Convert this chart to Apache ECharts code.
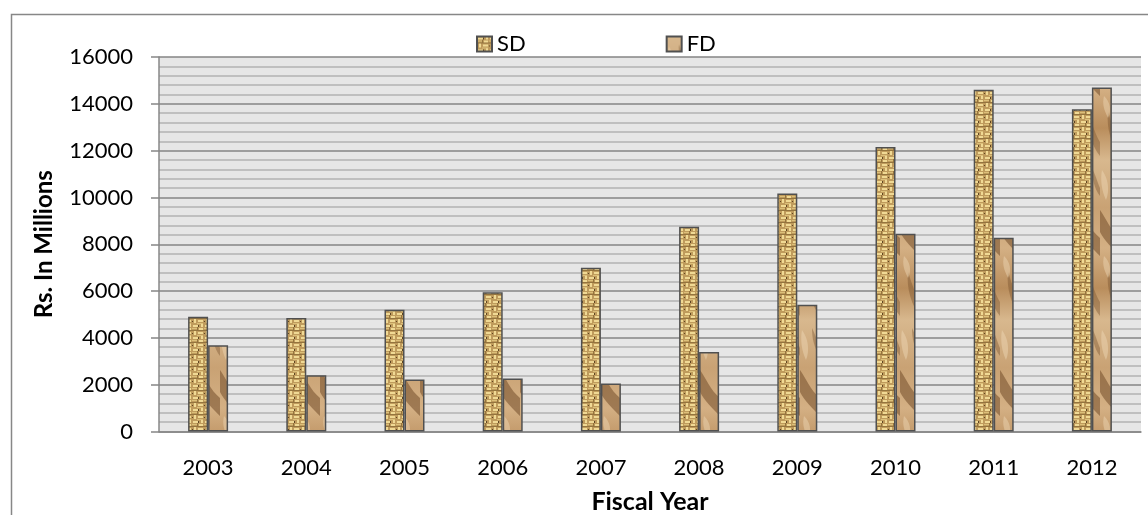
<!DOCTYPE html>
<html>
<head>
<meta charset="utf-8">
<script src="https://cdn.jsdelivr.net/npm/echarts@6/dist/echarts.min.js"></script>
<style>
  html, body { margin: 0; padding: 0; background: #ffffff; }
  #chart { width: 1148px; height: 515px; }
</style>
</head>
<body>
<div id="chart"></div>
<script>
// Deposits by fiscal year (Rs. in millions)
const years = ['2003', '2004', '2005', '2006', '2007', '2008', '2009', '2010', '2011', '2012'];
const sdValues = [4900, 4850, 5200, 5950, 7000, 8750, 10170, 12150, 14600, 13770];
const fdValues = [3690, 2400, 2220, 2260, 2050, 3400, 5410, 8450, 8280, 14700];
const yTicks = [0, 2000, 4000, 6000, 8000, 10000, 12000, 14000, 16000];

const FONT = 'Lato, "Open Sans", sans-serif';

// Woven tan texture for the SD bars
function wovenPattern() {
  const c = document.createElement('canvas');
  c.width = 12; c.height = 12;
  const g = c.getContext('2d');
  g.fillStyle = '#bf9b5c';
  g.fillRect(0, 0, 12, 12);
  g.fillStyle = '#f0d994';
  g.fillRect(1, 1, 5, 2);
  g.fillRect(7, 4, 4, 2);
  g.fillRect(2, 7, 2, 4);
  g.fillRect(6, 8, 5, 2);
  g.fillRect(9, 0, 2, 3);
  g.fillStyle = '#dcc07a';
  g.fillRect(0, 4, 5, 1);
  g.fillRect(5, 11, 6, 1);
  g.fillStyle = '#5e4522';
  g.fillRect(6, 1, 1, 2);
  g.fillRect(0, 9, 1, 1);
  g.fillRect(4, 6, 1, 1);
  g.fillRect(10, 6, 1, 1);
  g.fillStyle = '#94743e';
  g.fillRect(0, 6, 12, 1);
  g.fillRect(5, 3, 1, 3);
  return c;
}

// Crumpled paper texture for the FD bars
function paperPattern() {
  const c = document.createElement('canvas');
  c.width = 20; c.height = 160;
  const g = c.getContext('2d');
  const grad = g.createLinearGradient(0, 0, 0, 160);
  grad.addColorStop(0, '#d8b88e');
  grad.addColorStop(0.3, '#c9a274');
  grad.addColorStop(0.55, '#d4b084');
  grad.addColorStop(0.8, '#b98d5c');
  grad.addColorStop(1, '#d8b88e');
  g.fillStyle = grad;
  g.fillRect(0, 0, 20, 160);
  // dark creases
  g.fillStyle = 'rgba(105,68,34,0.5)';
  g.beginPath();
  g.moveTo(0, 50); g.bezierCurveTo(6, 58, 10, 70, 20, 78);
  g.lineTo(20, 96); g.bezierCurveTo(12, 88, 4, 80, 0, 72);
  g.closePath(); g.fill();
  g.fillStyle = 'rgba(105,68,34,0.35)';
  g.beginPath();
  g.moveTo(8, 112); g.bezierCurveTo(12, 124, 16, 136, 20, 142);
  g.lineTo(20, 156); g.bezierCurveTo(12, 146, 6, 128, 8, 112);
  g.closePath(); g.fill();
  g.beginPath();
  g.moveTo(12, 8); g.bezierCurveTo(16, 16, 18, 24, 20, 28);
  g.lineTo(20, 36); g.bezierCurveTo(14, 28, 12, 18, 12, 8);
  g.closePath(); g.fill();
  // light highlights
  g.fillStyle = 'rgba(240,218,185,0.45)';
  g.beginPath();
  g.moveTo(2, 10); g.bezierCurveTo(8, 18, 10, 30, 6, 40);
  g.bezierCurveTo(2, 32, 0, 20, 2, 10);
  g.closePath(); g.fill();
  g.beginPath();
  g.moveTo(4, 96); g.bezierCurveTo(10, 102, 12, 110, 8, 118);
  g.bezierCurveTo(4, 110, 2, 104, 4, 96);
  g.closePath(); g.fill();
  return c;
}

const chart = echarts.init(document.getElementById('chart'), null, { renderer: 'canvas' });

const barBorder = { borderColor: '#505050', borderWidth: 1.5 };

chart.setOption({
  backgroundColor: '#ffffff',
  animation: false,
  textStyle: { fontFamily: FONT, color: '#000000' },
  graphic: [{
    type: 'rect',
    left: 9, top: 12,
    shape: { width: 1160, height: 540 },
    style: { fill: 'none', stroke: '#878787', lineWidth: 1.5 },
    silent: true, z: 0
  }],
  legend: {
    left: 471, top: 28,
    icon: 'rect',
    itemWidth: 15, itemHeight: 15,
    itemGap: 140,
    textStyle: { fontFamily: FONT, fontSize: 22, color: '#000000' },
    data: ['SD', 'FD']
  },
  grid: {
    left: 159, top: 57, right: 7, bottom: 83.5,
    outerBoundsMode: 'none',
    containLabel: false,
    show: true, backgroundColor: '#e6e6e6', borderWidth: 0
  },
  xAxis: {
    type: 'category',
    data: years,
    name: 'Fiscal Year',
    nameLocation: 'middle',
    nameGap: 58,
    nameTextStyle: { fontFamily: FONT, fontSize: 25, fontWeight: 'bold', color: '#000000' },
    axisLine: { lineStyle: { color: '#878787', width: 1.5 } },
    axisTick: { show: false },
    axisLabel: { fontFamily: FONT, fontSize: 22, color: '#000000', margin: 25 }
  },
  yAxis: {
    type: 'value',
    min: yTicks[0], max: yTicks[yTicks.length - 1], interval: 2000,
    name: 'Rs. In Millions',
    nameLocation: 'middle',
    nameGap: 103,
    nameRotate: 90,
    nameTextStyle: { fontFamily: FONT, fontSize: 24, fontWeight: 'bold', color: '#000000' },
    axisLine: { show: true, lineStyle: { color: '#878787', width: 1.5 } },
    axisTick: { show: true, length: 8, lineStyle: { color: '#878787', width: 1.5 } },
    axisLabel: {
      fontFamily: FONT, fontSize: 22, color: '#000000', margin: 26,
      formatter: function (v) { return String(v); }
    },
    splitLine: { show: true, lineStyle: { color: '#858585', width: 1.5 } },
    minorTick: { show: false, splitNumber: 5 },
    minorSplitLine: { show: true, lineStyle: { color: '#b3b3b3', width: 1.5 } }
  },
  series: [
    {
      name: 'SD', type: 'bar', data: sdValues,
      barWidth: 20, barGap: '0%',
      itemStyle: Object.assign({ color: { image: wovenPattern(), repeat: 'repeat' } }, barBorder)
    },
    {
      name: 'FD', type: 'bar', data: fdValues,
      barWidth: 20,
      itemStyle: Object.assign({ color: { image: paperPattern(), repeat: 'repeat' } }, barBorder)
    }
  ]
});
</script>
</body>
</html>
